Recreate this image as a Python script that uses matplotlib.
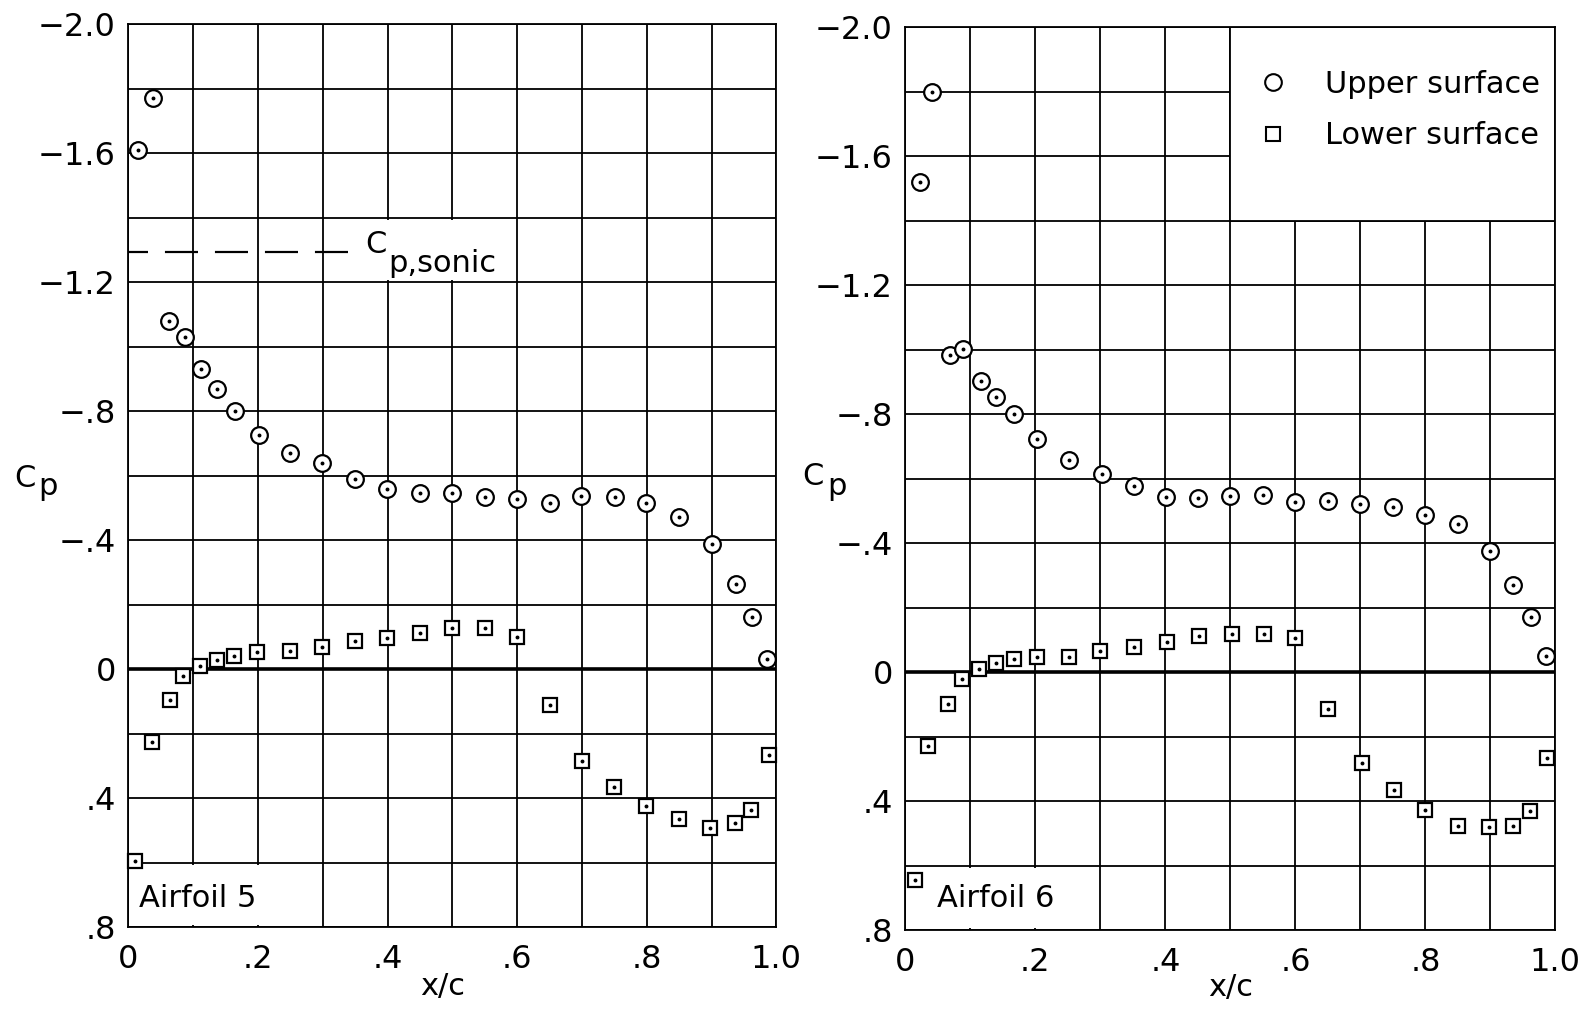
import numpy as np
import matplotlib
matplotlib.use("Agg")
import matplotlib.pyplot as plt
from matplotlib.patches import Rectangle
from matplotlib.lines import Line2D

plt.rcParams['font.family'] = ['DejaVu Sans']
plt.rcParams['lines.scale_dashes'] = False

# Airfoil 5
x5_up = [0.015, 0.038, 0.063, 0.088, 0.112, 0.137, 0.164, 0.201, 0.25, 0.299, 0.35, 0.399, 0.45,
         0.5, 0.55, 0.6, 0.65, 0.699, 0.751, 0.799, 0.85, 0.9, 0.937, 0.962, 0.985]
cp5_up = [-1.61, -1.77, -1.08, -1.03, -0.93, -0.87, -0.80, -0.726, -0.669, -0.639, -0.59, -0.559, -0.545,
          -0.548, -0.535, -0.527, -0.517, -0.537, -0.535, -0.517, -0.473, -0.389, -0.264, -0.161, -0.032]
x5_lo = [0.010, 0.037, 0.064, 0.084, 0.110, 0.136, 0.163, 0.198, 0.249, 0.298, 0.349, 0.399, 0.450,
         0.500, 0.550, 0.600, 0.650, 0.700, 0.749, 0.798, 0.849, 0.898, 0.936, 0.960, 0.988]
cp5_lo = [0.595, 0.226, 0.096, 0.020, -0.010, -0.030, -0.040, -0.054, -0.058, -0.070, -0.089, -0.096, -0.112,
          -0.127, -0.128, -0.100, 0.111, 0.283, 0.366, 0.424, 0.464, 0.493, 0.478, 0.437, 0.266]

# Airfoil 6
x6_up = [0.023, 0.041, 0.068, 0.088, 0.116, 0.140, 0.167, 0.202, 0.252, 0.302, 0.351, 0.401, 0.450,
         0.500, 0.550, 0.600, 0.650, 0.699, 0.750, 0.800, 0.850, 0.900, 0.934, 0.963, 0.986]
cp6_up = [-1.52, -1.80, -0.984, -1.002, -0.904, -0.852, -0.802, -0.724, -0.658, -0.615, -0.578, -0.545, -0.540,
          -0.548, -0.550, -0.528, -0.530, -0.521, -0.513, -0.488, -0.459, -0.377, -0.271, -0.170, -0.050]
x6_lo = [0.015, 0.035, 0.066, 0.087, 0.114, 0.140, 0.167, 0.202, 0.252, 0.300, 0.351, 0.402, 0.452,
         0.503, 0.552, 0.600, 0.650, 0.702, 0.751, 0.799, 0.850, 0.898, 0.935, 0.961, 0.987]
cp6_lo = [0.645, 0.228, 0.099, 0.022, -0.009, -0.028, -0.040, -0.048, -0.047, -0.067, -0.079, -0.095, -0.113,
          -0.118, -0.120, -0.106, 0.114, 0.282, 0.366, 0.428, 0.478, 0.480, 0.478, 0.431, 0.266]

cp_sonic = -1.293

xticks = [0, 0.2, 0.4, 0.6, 0.8, 1.0]
xticklabels = ['0', '.2', '.4', '.6', '.8', '1.0']
yticks = [-2.0, -1.6, -1.2, -0.8, -0.4, 0, 0.4, 0.8]
yticklabels = ['\u22122.0', '\u22121.6', '\u22121.2', '\u2212.8', '\u2212.4', '0', '.4', '.8']

FS = 22
LW = 1.3


def setup(ax):
    ax.set_xlim(0, 1.0)
    ax.set_ylim(0.8, -2.0)
    ax.set_xticks(xticks)
    ax.set_xticklabels(xticklabels, fontsize=FS + 1)
    ax.set_yticks(yticks)
    ax.set_yticklabels(yticklabels, fontsize=FS + 1)
    ax.set_xticks(np.arange(0, 1.01, 0.1), minor=True)
    ax.set_yticks(np.arange(-2.0, 0.81, 0.2), minor=True)
    ax.tick_params(which='both', length=0)
    ax.tick_params(axis='x', pad=12)
    ax.tick_params(axis='y', pad=9)
    ax.set_axisbelow(True)
    ax.grid(which='both', color='black', linewidth=LW)
    ax.axhline(0, color='black', linewidth=2.6, zorder=1.2)
    for s in ax.spines.values():
        s.set_linewidth(LW)


def points(ax, x, y, marker, ms):
    ax.plot(x, y, ls='none', marker=marker, ms=ms, mfc='white', mec='black', mew=1.6,
            clip_on=False, zorder=3)
    ax.plot(x, y, ls='none', marker='o', ms=1.8, color='black', clip_on=False, zorder=4)


fig = plt.figure(figsize=(15.94, 10.09), dpi=100)
ax1 = fig.add_axes([0.0806, 0.081, 0.4065, 0.895])
ax2 = fig.add_axes([0.568, 0.078, 0.4078, 0.895])

for ax in (ax1, ax2):
    setup(ax)
    # label box for airfoil name
    ax.add_patch(Rectangle((0.006, 0.606), 0.288, 0.188, facecolor='white', edgecolor='none', zorder=1))

points(ax1, x5_up, cp5_up, 'o', 12)
points(ax1, x5_lo, cp5_lo, 's', 10.5)
points(ax2, x6_up, cp6_up, 'o', 12)
points(ax2, x6_lo, cp6_lo, 's', 10.5)

# sonic line
ax1.add_patch(Rectangle((0.356, -1.394), 0.238, 0.188, facecolor='white', edgecolor='none', zorder=1))
ax1.plot([0, 0.347], [cp_sonic, cp_sonic], color='black', lw=1.6, linestyle=(9.4, (23.8, 12.2)), zorder=2)
ax1.text(0.365, -1.291, 'C', fontsize=FS, ha='left', va='baseline', zorder=2)
ax1.text(0.4005, -1.232, 'p,sonic', fontsize=FS, ha='left', va='baseline', zorder=2)

ax1.text(0.017, 0.71, 'Airfoil 5', fontsize=FS, ha='left', va='center', zorder=2)
ax2.text(0.049, 0.70, 'Airfoil 6', fontsize=FS, ha='left', va='center', zorder=2)

# axis labels
ax1.text(-0.177, 0.4876, 'C', fontsize=FS, transform=ax1.transAxes, ha='left', va='baseline')
ax1.text(-0.139, 0.4787, 'p', fontsize=FS, transform=ax1.transAxes, ha='left', va='baseline')
ax2.text(-0.158, 0.493, 'C', fontsize=FS, transform=ax2.transAxes, ha='left', va='baseline')
ax2.text(-0.120, 0.482, 'p', fontsize=FS, transform=ax2.transAxes, ha='left', va='baseline')
ax1.text(0.485, -0.066, 'x/c', fontsize=FS, transform=ax1.transAxes, ha='center', va='center')
ax2.text(0.50, -0.063, 'x/c', fontsize=FS, transform=ax2.transAxes, ha='center', va='center')

# legend box
ax2.add_patch(Rectangle((0.5, -2.0), 0.5, 0.6, facecolor='white', edgecolor='black', lw=LW, zorder=1))
handles = [Line2D([], [], ls='none', marker='o', ms=12, mfc='none', mec='black', mew=1.5),
           Line2D([], [], ls='none', marker='s', ms=10.5, mfc='none', mec='black', mew=1.5)]
ax2.legend(handles, ['Upper surface', 'Lower surface'], loc='upper left', bbox_to_anchor=(0.50, 0.983),
           frameon=False, fontsize=FS, handlelength=1.0, handletextpad=1.2, labelspacing=0.73)

fig.savefig('out.png', dpi=100)
